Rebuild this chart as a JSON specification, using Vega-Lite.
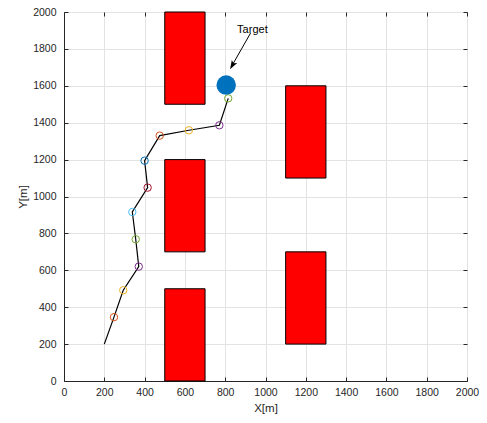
{
  "$schema": "https://vega.github.io/schema/vega-lite/v6.json",
  "width": 403,
  "height": 369,
  "autosize": "none",
  "padding": {"left": 64, "top": 12, "right": 20, "bottom": 42},
  "background": "white",
  "config": {
    "view": {"stroke": "#262626", "strokeWidth": 1},
    "font": "Liberation Sans",
    "axis": {
      "domainColor": "#262626",
      "tickColor": "#262626",
      "labelColor": "#262626",
      "titleColor": "#262626",
      "labelFont": "Liberation Sans",
      "titleFont": "Liberation Sans",
      "labelFontSize": 10.5,
      "titleFontSize": 11.5,
      "titleFontWeight": "normal",
      "gridColor": "#e3e3e3",
      "gridWidth": 1,
      "tickSize": -4,
      "labelOverlap": false,
      "labelFlush": false,
      "format": "d",
      "values": [0,200,400,600,800,1000,1200,1400,1600,1800,2000]
    }
  },
  "datasets": {
    "rects": [
      {"x": 500, "x2": 700, "y": 1500, "y2": 2000},
      {"x": 500, "x2": 700, "y": 700, "y2": 1200},
      {"x": 500, "x2": 700, "y": 0, "y2": 500},
      {"x": 1100, "x2": 1300, "y": 1100, "y2": 1600},
      {"x": 1100, "x2": 1300, "y": 200, "y2": 700}
    ],
    "path": [
      {"i": 0, "x": 200, "y": 200, "k": 0},
      {"i": 1, "x": 248, "y": 346, "k": 1},
      {"i": 2, "x": 294, "y": 492, "k": 2},
      {"i": 3, "x": 371, "y": 620, "k": 3},
      {"i": 4, "x": 356, "y": 768, "k": 4},
      {"i": 5, "x": 339, "y": 916, "k": 5},
      {"i": 6, "x": 415, "y": 1048, "k": 6},
      {"i": 7, "x": 400, "y": 1194, "k": 0},
      {"i": 8, "x": 475, "y": 1330, "k": 1},
      {"i": 9, "x": 620, "y": 1359, "k": 2},
      {"i": 10, "x": 771, "y": 1386, "k": 3},
      {"i": 11, "x": 815, "y": 1532, "k": 4}
    ],
    "target": [{"x": 805, "y": 1604, "label": "Target", "ax": 926, "ay": 1886, "tx": 935, "ty": 1905}]
  },
  "resolve": {"axis": {"x": "independent", "y": "independent"}},
  "layer": [
    {
      "data": {"name": "rects"},
      "mark": {"type": "rect", "fill": "#ff0000", "stroke": "#000000", "strokeWidth": 1},
      "encoding": {
        "x": {"field": "x", "type": "quantitative", "scale": {"domain": [0, 2000], "nice": false}, "axis": {"orient": "bottom", "title": "X[m]", "grid": true, "labelPadding": 10, "titlePadding": 5}},
        "x2": {"field": "x2"},
        "y": {"field": "y", "type": "quantitative", "scale": {"domain": [0, 2000], "nice": false}, "axis": {"orient": "left", "title": "Y[m]", "grid": true, "labelPadding": 12, "titlePadding": 4}},
        "y2": {"field": "y2"}
      }
    },
    {
      "data": {"name": "rects"},
      "mark": {"type": "rect", "opacity": 0},
      "encoding": {
        "x": {"field": "x", "type": "quantitative", "axis": {"orient": "top", "labels": false, "title": null, "domain": false, "grid": false}},
        "x2": {"field": "x2"},
        "y": {"field": "y", "type": "quantitative", "axis": {"orient": "right", "labels": false, "title": null, "domain": false, "grid": false}},
        "y2": {"field": "y2"}
      }
    },
    {
      "data": {"name": "path"},
      "mark": {"type": "line", "color": "#000000", "strokeWidth": 1.2},
      "encoding": {
        "x": {"field": "x", "type": "quantitative", "axis": null},
        "y": {"field": "y", "type": "quantitative", "axis": null},
        "order": {"field": "i"}
      }
    },
    {
      "data": {"name": "path"},
      "transform": [{"filter": "datum.i > 0"}],
      "mark": {"type": "point", "shape": "circle", "filled": false, "size": 55, "strokeWidth": 1, "opacity": 1},
      "encoding": {
        "x": {"field": "x", "type": "quantitative", "axis": null},
        "y": {"field": "y", "type": "quantitative", "axis": null},
        "color": {"field": "k", "type": "nominal", "legend": null, "scale": {"domain": [0,1,2,3,4,5,6], "range": ["#0072BD","#D95319","#EDB120","#7E2F8E","#77AC30","#4DBEEE","#A2142F"]}}
      }
    },
    {
      "data": {"name": "target"},
      "mark": {"type": "point", "shape": "circle", "filled": true, "size": 380, "color": "#0072BD", "opacity": 1},
      "encoding": {
        "x": {"field": "x", "type": "quantitative", "axis": null},
        "y": {"field": "y", "type": "quantitative", "axis": null}
      }
    },
    {
      "data": {"name": "target"},
      "mark": {"type": "rule", "color": "#000000", "strokeWidth": 1},
      "encoding": {
        "x": {"field": "ax", "type": "quantitative", "axis": null},
        "y": {"field": "ay", "type": "quantitative", "axis": null},
        "x2": {"datum": 832},
        "y2": {"datum": 1706}
      }
    },
    {
      "data": {"name": "target"},
      "mark": {"type": "point", "shape": "M0,-1L0.55,0.6L0,0.25L-0.55,0.6Z", "filled": true, "color": "#000000", "size": 130, "angle": 209.5, "opacity": 1},
      "encoding": {
        "x": {"datum": 838, "type": "quantitative", "axis": null},
        "y": {"datum": 1716, "type": "quantitative", "axis": null}
      }
    },
    {
      "data": {"name": "target"},
      "mark": {"type": "text", "font": "Liberation Sans", "fontSize": 11, "color": "#000000", "align": "center", "baseline": "middle"},
      "encoding": {
        "x": {"field": "tx", "type": "quantitative", "axis": null},
        "y": {"field": "ty", "type": "quantitative", "axis": null},
        "text": {"field": "label"}
      }
    }
  ]
}
